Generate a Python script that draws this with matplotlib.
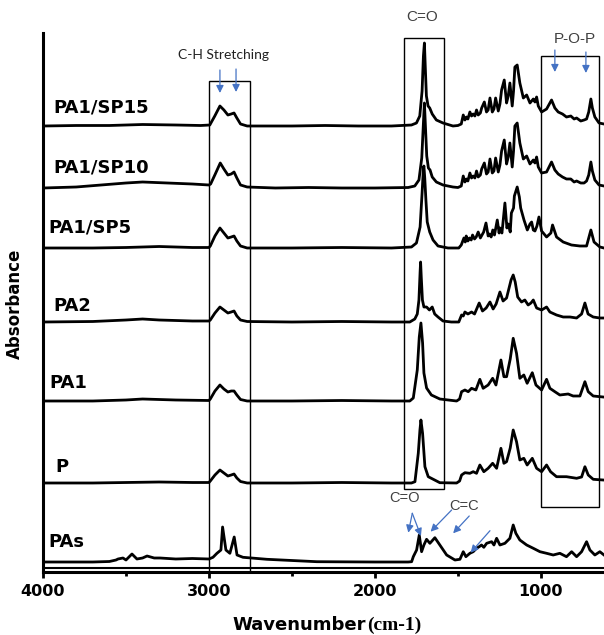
import matplotlib.pyplot as plt
from matplotlib.patches import Rectangle

# FTIR spectra: (wavenumber cm-1, absorbance above own baseline, a.u.)
pas = [(4000, 0), (3700, 0), (3600, 0.5), (3560, 2), (3548, 3), (3518, 4), (3500, 2), (3464, 8),
       (3434, 3), (3400, 4), (3373, 6), (3330, 4), (3295, 4), (3200, 3), (3100, 3.5), (3000, 3),
       (2976, 4.7), (2952, 8.7), (2928, 12), (2918, 35), (2898, 12), (2874, 8.7), (2848, 25),
       (2831, 7), (2795, 4.7), (2651, 2.7), (2350, 0.3), (2000, 0), (1800, 0), (1779, 0.3),
       (1769, 5.3), (1749, 12), (1733, 27), (1719, 10.3), (1705, 17), (1689, 22.7), (1669, 18.7),
       (1639, 24.3), (1609, 17), (1568, 7), (1518, 2), (1488, 2.7), (1468, 10.3), (1452, 5.3),
       (1428, 8.7), (1408, 10.3), (1388, 13.7), (1372, 15.3), (1358, 17), (1344, 14.7), (1327, 18.7),
       (1297, 20.3), (1283, 17), (1267, 23.7), (1247, 17), (1217, 18.7), (1187, 23.7), (1167, 37),
       (1151, 28.7), (1127, 22), (1086, 17), (1046, 13.7), (1006, 10.3), (966, 8.7), (926, 7),
       (886, 8.7), (846, 5.3), (815, 10.3), (785, 5.3), (755, 10.3), (725, 20.3), (705, 12),
       (675, 7), (645, 10.3), (620, 7)]

p = [(4000, 0), (3700, 0), (3500, 0.5), (3300, 1), (3100, 0.5), (3000, 0.5), (2992, 2), (2964, 8),
     (2934, 13), (2910, 10), (2886, 7), (2866, 8), (2849, 9), (2832, 5), (2810, 1.5), (2770, 0),
     (2500, 0), (2200, 0.5), (1900, 0), (1780, 0), (1759, 1.3), (1739, 29.7), (1729, 53), (1723, 63),
     (1713, 49.7), (1699, 16.3), (1679, 6.3), (1609, 0.3), (1508, 0), (1490, 2), (1478, 8), (1458, 10.3),
     (1428, 9.7), (1408, 11.3), (1388, 9.7), (1368, 18), (1344, 11.3), (1318, 14.7), (1291, 19.7),
     (1267, 14.7), (1241, 34.7), (1223, 19.7), (1207, 21.3), (1185, 35), (1167, 53), (1147, 41.3),
     (1127, 23), (1103, 24.7), (1083, 18), (1052, 24.7), (1026, 14.7), (996, 11.3), (966, 18),
     (942, 11.3), (906, 6.3), (846, 6.3), (785, 4.7), (755, 6), (735, 16.3), (715, 8), (685, 3.7),
     (625, 3)]

pa1 = [(4000, 0), (3700, 0), (3500, 1), (3400, 2), (3200, 1), (3000, 0.5), (2992, 2), (2964, 10),
       (2934, 16), (2910, 12), (2886, 9), (2866, 10), (2849, 10), (2832, 6), (2810, 1.5), (2770, 0),
       (2500, 0), (2200, 0.5), (1900, 0), (1790, 0), (1769, 3), (1745, 31), (1733, 64), (1723, 78),
       (1713, 58), (1705, 28), (1689, 13), (1660, 6), (1609, 2), (1508, 0), (1490, 2), (1478, 9.3),
       (1458, 11), (1438, 9.3), (1418, 12.7), (1392, 11), (1368, 21.7), (1348, 12.7), (1318, 16),
       (1291, 22.7), (1271, 16), (1241, 41), (1223, 24.3), (1207, 24.3), (1185, 42), (1167, 62.7),
       (1147, 47.7), (1127, 22.7), (1103, 26), (1083, 17.7), (1052, 28.3), (1030, 16), (996, 11),
       (966, 21.7), (946, 12.7), (916, 9.3), (886, 6), (836, 7), (806, 5), (765, 5), (735, 19.3),
       (715, 9.3), (685, 5), (625, 4)]

pa2 = [(4000, 0), (3700, 0.5), (3500, 2), (3400, 3), (3300, 2), (3100, 1), (3000, 1), (2992, 2),
       (2964, 9), (2934, 15), (2910, 12), (2886, 9), (2866, 10), (2849, 11), (2832, 6), (2810, 2),
       (2770, 0.5), (2500, 0), (2200, 0.5), (1900, 0), (1790, 0), (1760, 3), (1745, 8), (1735, 22),
       (1728, 50), (1725, 60), (1721, 45), (1714, 22), (1705, 15), (1689, 15), (1672, 12), (1655, 15),
       (1640, 8), (1620, 5), (1590, 1), (1540, 0), (1495, 0), (1478, 7), (1468, 6), (1458, 10),
       (1440, 8), (1418, 10), (1400, 8), (1372, 19), (1352, 11), (1330, 14), (1307, 20), (1288, 13),
       (1270, 18), (1247, 30), (1228, 21), (1207, 24), (1180, 42), (1167, 47), (1155, 40), (1140, 25),
       (1117, 20), (1097, 22), (1077, 17), (1060, 19), (1046, 22), (1026, 14), (996, 12), (966, 15),
       (946, 10), (906, 7), (866, 5), (825, 5), (785, 4), (755, 8), (735, 19), (716, 8), (685, 5),
       (645, 4), (620, 4)]

pa1_sp5 = [(4000, 0), (3700, 0), (3500, 0.5), (3300, 1.5), (3100, 0.5), (3000, 0.5), (2992, 2),
           (2964, 12), (2934, 20), (2910, 15), (2886, 10), (2866, 11), (2849, 12), (2832, 7), (2810, 2),
           (2770, 0), (2500, 0), (2200, 0.5), (1900, 0), (1780, 1), (1750, 5), (1728, 21), (1716, 55),
           (1708, 80), (1705, 82), (1700, 70), (1693, 48), (1685, 26), (1670, 16), (1650, 8), (1620, 2),
           (1560, 0), (1495, 0), (1480, 3), (1464, 10), (1456, 6), (1450, 12), (1440, 7), (1430, 10),
           (1420, 8), (1412, 13), (1400, 9), (1390, 11), (1378, 16), (1365, 10), (1355, 13), (1345, 16),
           (1331, 25), (1318, 12), (1310, 14), (1300, 11), (1290, 18), (1280, 13), (1263, 28), (1252, 15),
           (1247, 20), (1235, 15), (1230, 23), (1217, 45), (1205, 20), (1197, 24), (1185, 16), (1178, 35),
           (1165, 40), (1160, 52), (1143, 61), (1130, 51), (1122, 40), (1102, 28), (1090, 22), (1082, 18),
           (1066, 24), (1056, 26), (1046, 18), (1036, 17), (1024, 22), (1012, 31), (996, 17), (966, 11),
           (940, 15), (930, 23), (906, 11), (866, 6), (816, 3), (765, 2), (725, 2), (699, 18), (680, 6),
           (645, 1), (620, 0)]

pa1_sp10 = [(4000, 0), (3800, 1), (3650, 3), (3500, 5), (3400, 6), (3250, 5), (3100, 4), (3000, 3),
            (2990, 4), (2962, 14), (2932, 25), (2910, 19), (2886, 13), (2866, 14), (2849, 16), (2832, 10),
            (2810, 3), (2770, 1), (2600, 0), (2400, 0.5), (2200, 0), (2000, 0), (1800, 0.5), (1760, 2),
            (1735, 8), (1718, 30), (1708, 65), (1702, 85), (1696, 62), (1688, 32), (1678, 20), (1668, 18),
            (1655, 11), (1630, 6), (1590, 3), (1530, 1), (1500, 0.5), (1480, 2), (1468, 12), (1458, 6),
            (1448, 9), (1440, 7), (1428, 15), (1418, 10), (1408, 12), (1398, 10), (1388, 17), (1378, 11),
            (1365, 13), (1357, 19), (1341, 25), (1328, 14), (1318, 16), (1307, 29), (1293, 15), (1283, 17),
            (1273, 30), (1257, 16), (1247, 23), (1237, 37), (1221, 48), (1207, 24), (1197, 31), (1187, 45),
            (1173, 21), (1165, 37), (1157, 62), (1143, 65), (1127, 45), (1106, 29), (1086, 32), (1066, 24),
            (1046, 28), (1036, 25), (1026, 31), (1016, 21), (996, 15), (966, 16), (936, 26), (916, 18),
            (896, 14), (870, 11), (846, 9), (820, 9), (800, 6), (785, 7), (760, 5), (740, 5), (725, 7),
            (712, 13), (699, 26), (690, 17), (675, 8), (650, 3), (620, 2)]

pa1_sp15 = [(4000, 0), (3800, 0.5), (3600, 0.5), (3400, 1.5), (3200, 1), (3050, 0.5), (2995, 1),
            (2965, 10), (2934, 20), (2910, 16), (2886, 11), (2866, 12), (2849, 13), (2832, 8), (2810, 2),
            (2770, 0), (2500, 0), (2300, 0.5), (2100, 0), (1900, 0), (1780, 1), (1750, 3), (1730, 10),
            (1716, 35), (1708, 70), (1702, 83), (1697, 60), (1690, 30), (1680, 20), (1670, 18), (1655, 12),
            (1630, 6), (1590, 3), (1530, 0), (1500, 0.5), (1480, 2), (1468, 11), (1458, 6), (1448, 9),
            (1440, 7), (1428, 14), (1418, 10), (1408, 12), (1398, 10), (1388, 16), (1378, 11), (1365, 13),
            (1357, 18), (1341, 24), (1328, 14), (1318, 16), (1307, 28), (1293, 14), (1283, 17), (1273, 28),
            (1257, 15), (1247, 22), (1237, 36), (1221, 46), (1207, 23), (1197, 30), (1187, 43), (1173, 20),
            (1165, 35), (1157, 59), (1143, 61), (1127, 43), (1106, 28), (1086, 31), (1066, 23), (1046, 27),
            (1036, 24), (1026, 29), (1016, 20), (996, 14), (966, 17), (936, 26), (916, 18), (896, 14),
            (870, 12), (846, 9), (820, 10), (800, 7), (785, 8), (760, 5), (740, 6), (725, 7), (712, 14),
            (699, 27), (690, 18), (675, 9), (650, 3), (620, 2)]

spectra = [pas, p, pa1, pa2, pa1_sp5, pa1_sp10, pa1_sp15]
names = ["PAs", "P", "PA1", "PA2", "PA1/SP5", "PA1/SP10", "PA1/SP15"]

# vertical stacking of the traces and where their names sit
offsets = [10, 89, 171, 250, 324, 384, 446]
label_x = [3970, 3928, 3964, 3940, 3970, 3940, 3940]
label_y = [30, 105, 189, 266, 344, 405, 465]

fig = plt.figure(figsize=(6.04, 6.35), dpi=100)
ax = fig.add_axes([43/604, 63/635, 561/604, 539/635])

for spec, off in zip(spectra, offsets):
    wn = [s[0] for s in spec]
    ab = [s[1] + off for s in spec]
    ax.plot(wn, ab, color="black", lw=2.0, solid_joinstyle="round")

for name, x, y in zip(names, label_x, label_y):
    ax.text(x, y, name, fontsize=13, fontweight="bold", va="center", ha="left")

# boxes around band regions
for (x0, x1, y0, y1) in [(2750, 3000, 0, 491), (1584, 1825, 83, 534), (651, 1000, 65, 516)]:
    ax.add_patch(Rectangle((x0, y0), x1 - x0, y1 - y0, fill=False, ec="black", lw=1.0, zorder=1))

blue = "#4472C4"
arr = dict(arrowstyle="-|>", color=blue, lw=0.9, mutation_scale=11, shrinkA=0, shrinkB=0)
arrows = [((2934, 502), (2934, 479)), ((2837, 503), (2837, 480)),
          ((916, 522), (916, 500)), ((729, 520), (729, 499)),
          ((1775, 58.7), (1799, 39.3)), ((1775, 58.7), (1723, 36)),
          ((1538, 62), (1665, 40.3)), ((1432, 56), (1529, 38.7)), ((1307, 41.3), (1424, 19.3))]
for tail, tip in arrows:
    ax.annotate("", xy=tip, xytext=tail, arrowprops=arr)

ax.text(2913, 517, "C-H Stretching", fontsize=10, family="Lato", color="#222222", ha="center", va="center")
ax.text(1717, 555, "C=O", fontsize=11, family="Liberation Sans", color="#404040", ha="center", va="center")
ax.text(795, 533, "P-O-P", fontsize=11, family="Liberation Sans", color="#404040", ha="center", va="center")
ax.text(1819, 74, "C=O", fontsize=10.5, family="Liberation Sans", color="#404040", ha="center", va="center")
ax.text(1464, 66, "C=C", fontsize=10.5, family="Liberation Sans", color="#404040", ha="center", va="center")

ax.set_xlim(4000, 620)
ax.set_ylim(0, 539)
ax.axhline(4.5, color="black", lw=1.5)

ax.spines["top"].set_visible(False)
ax.spines["right"].set_visible(False)
ax.spines["left"].set_linewidth(2.2)
ax.spines["bottom"].set_linewidth(2.2)
ax.set_yticks([])
ax.set_xticks([4000, 3000, 2000, 1000])
ax.set_xticks([3500, 2500, 1500], minor=True)
ax.tick_params("x", which="major", direction="out", length=4, width=2, pad=5, labelsize=11.5)
ax.tick_params("x", which="minor", direction="out", length=3, width=2)
for t in ax.get_xticklabels():
    t.set_fontweight("bold")

fig.text(15/604, 1 - 304/635, "Absorbance", rotation=90, fontsize=12, fontweight="bold",
         ha="center", va="center")
fig.text(232/604, 1 - 630/635, "Wavenumber", fontsize=13, fontweight="bold", ha="left", va="baseline")
fig.text(367/604, 1 - 630/635, "(cm-1)", fontsize=14, fontweight="bold", family="Liberation Serif",
         ha="left", va="baseline")

plt.savefig("out.png", dpi=100)
